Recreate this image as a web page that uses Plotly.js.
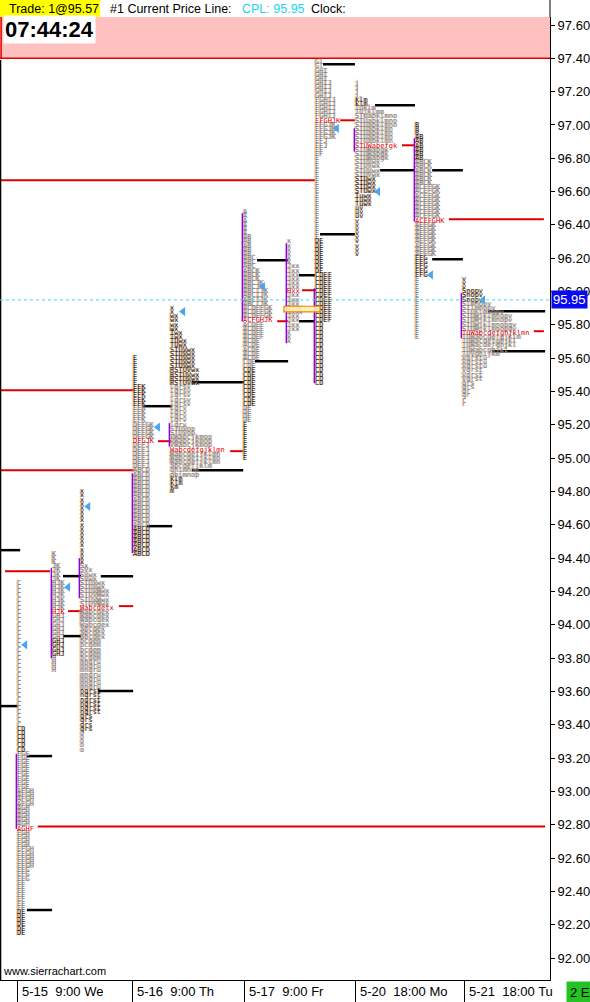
<!DOCTYPE html>
<html><head><meta charset="utf-8">
<script src="https://cdn.plot.ly/plotly-3.0.1.min.js"></script>
<style>html,body{margin:0;padding:0;background:#fff}#c{width:590px;height:1002px}</style>
</head><body><div id="c"></div>
<script>
// ---------- DATA ----------
const ROW = 0.025;                       // TPO row height in price
const profileStart = [4.05, 12.38, 19.05, 31.67, 40.48, 57.86, 68.33, 75.0, 84.52, 98.81, 110.0]; // TPO column slot
const profileTop   = [94.25, 94.425, 94.80, 95.60, 95.90, 96.475, 96.30, 97.375, 97.25, 97.00, 96.075];
// each profile: [rows, letters, style]  style g=grey, d=dark, p=POC
const tpo1 = [[35,'C','g'],[6,'CD','d'],[9,'FGE','g'],[4,'AFGH','g'],[5,'AGH','g'],[1,'AGHF','p'],[4,'FGH','g'],[5,'EFGH','g'],[3,'EFG','g'],[7,'EF','g'],[6,'DE','d']];
const tpo2 = [[3,'K','g'],[4,'JK','g'],[7,'HJK','g'],[1,'HJK','p'],[6,'GHJ','g'],[4,'GHJ','d'],[4,'H','g']];
const tpo3 = [[18,'x','d'],[1,'Sx','g'],[1,'SVx','g'],[2,'SVwx','g'],[2,'STUVwx','g'],[4,'STUVWwx','g'],[1,'Wabcdetx','p'],[4,'Wabcdex','g'],[3,'abcdex','g'],[5,'bcdem','g'],[7,'mnqru','g'],[6,'nqrst','d'],[4,'qrs','d'],[5,'o','g']];
const tpo4 = [[7,'E','d'],[5,'EFK','d'],[4,'EFK','g'],[4,'DEFGK','g'],[1,'DFGJK','p'],[6,'DEFJ','g'],[14,'ABCD','g'],[7,'ABCD','d']];
const tpo5 = [[2,'x','d'],[4,'wx','d'],[2,'Twx','d'],[2,'TUwx','d'],[5,'STUVwx','d'],[4,'RSTUVwx','d'],[5,'lqrsv','g'],[5,'lqrv','g'],[2,'STUVop','g'],[3,'VWabcjkmop','g'],[1,'Wabcdefgjklmn','p'],[3,'Wabcdefjklmn','g'],[1,'abcdefjklm','g'],[2,'ghimnop','g'],[2,'klm','d'],[1,'km','d'],[1,'m','d']];
const tpo6 = [[6,'A','g'],[5,'AB','g'],[3,'ABC','g'],[3,'ABCK','g'],[2,'ABCJK','g'],[4,'ABCIJK','g'],[3,'ACDEFGK','g'],[1,'ACFGHJK','p'],[4,'ACDEF','g'],[5,'ACDE','g'],[2,'CDE','g'],[9,'CDE','d'],[4,'DE','g'],[9,'E','d']];
const tpo7 = [[6,'x','g'],[6,'Jxx','g'],[1,'Hxx','p'],[9,'Jxx','g'],[3,'x','g']];
const tpo8 = [[2,'Gl','g'],[3,'GHI','g'],[4,'GHIJ','g'],[5,'FGHIJ','g'],[1,'EFGHJK','p'],[4,'EFGJK','g'],[2,'EFJ','g'],[2,'EF','g'],[20,'E','g'],[8,'DE','d'],[12,'CDEF','d'],[15,'CD','d']];
const tpo9 = [[4,'j','g'],[2,'klm','d'],[1,'TUklm','g'],[1,'TUjklmn','g'],[3,'STUabklmno','g'],[4,'STUabklmn','g'],[1,'STUWabefgk','p'],[3,'STUWabgk','g'],[4,'STUVwx','g'],[4,'STUwx','d'],[3,'Tuwx','d'],[3,'uv','d'],[9,'v','d']];
const tpo10 = [[3,'B','d'],[6,'AB','d'],[6,'ABCK','g'],[8,'ACEFGK','g'],[1,'ACEFGHK','p'],[8,'AEFGK','g'],[5,'EFG','d'],[15,'E','g']];
const tpo11 = [[3,'v','d'],[3,'Snopv','d'],[1,'Slmnopv','g'],[1,'STlmnopv','g'],[1,'STUklmnopv','g'],[2,'STUWjklmnopv','g'],[2,'STUWjklmnopqv','g'],[1,'TUWabcdefghjklmn','p'],[1,'TUWabcdefgjklm','g'],[2,'TUWacdefghjkl','g'],[1,'TUWabcghjkl','g'],[1,'TUVghijkm','g'],[3,'Vqrstu','g'],[3,'Vqrst','g'],[2,'qrs','g'],[2,'qr','g'],[2,'r','g']];
const profiles = [tpo1,tpo2,tpo3,tpo4,tpo5,tpo6,tpo7,tpo8,tpo9,tpo10,tpo11];

const vaHigh = [93.225, 94.34, 94.40, 94.91, 95.21, 96.47, 96.29, 96.02, 96.98, 96.92, 95.99];
const vaLow  = [92.775, 93.80, 94.16, 94.43, 95.07, 95.82, 95.69, 95.45, 96.84, 96.42, 95.72];

const triSlot  = [6.0, 16.2, 21.0, 37.6, 43.6, 62.6, 71.4, 80.2, 90.0, 102.6, 115.0];
const triPrice = [93.88, 94.226, 94.71, 95.186, 95.88, 96.03, 95.89, 96.98, 96.60, 96.10, 95.95];

const blackPrice = [94.448, 93.512, 93.212, 92.288, 94.292, 93.932, 94.292, 93.602, 95.312, 94.592, 95.456, 94.928, 96.188, 95.582, 96.098, 95.822, 97.364, 96.344, 97.118, 96.728, 96.728, 96.194, 95.882, 95.642];
const blackFrom  = [0, 0, 6.4, 6.4, 15, 15, 24, 23.3, 34, 35, 45.7, 45.7, 61.2, 60.7, 71.2, 71.2, 76.9, 76.2, 89.3, 90.5, 102.9, 102.9, 116.2, 117.1];
const blackTo    = [4.8, 4.3, 12.4, 12.4, 19.3, 19.3, 31.7, 31.7, 41, 41, 58.1, 57.9, 68.6, 68.6, 75, 75, 84.5, 84.5, 98.8, 98.6, 110.2, 110.2, 129.8, 129.8];

const redPrice = [96.668, 95.408, 94.928, 94.322, 92.79, 94.082, 94.112, 95.102, 95.042, 95.822, 96.008, 97.028, 96.878, 96.434, 95.762];
const redFrom  = [0, 0, 0, 1.2, 9, 16.2, 28.3, 37.6, 54.8, 66, 71.9, 81, 95.7, 106.9, 127.1];
const redTo    = [75, 32, 32, 11.9, 129.8, 19.5, 31.7, 40.7, 57.9, 68.6, 75.2, 84.5, 98.8, 129.5, 129.5];

const sessionSlot  = [4.05, 31.5, 58.1, 84.6, 110.5];
const sessionLabel = ['5-15\u00a0\u00a09:00 We', '5-16\u00a0\u00a09:00 Th', '5-17\u00a0\u00a09:00 Fr', '5-20\u00a0\u00a018:00 Mo', '5-21\u00a0\u00a018:00 Tu'];

const yTickVals = [92.0,92.2,92.4,92.6,92.8,93.0,93.2,93.4,93.6,93.8,94.0,94.2,94.4,94.6,94.8,95.0,95.2,95.4,95.6,95.8,96.0,96.2,96.4,96.6,96.8,97.0,97.2,97.4,97.6];
const yTickText = ['92.00','92.20','92.40','92.60','92.80','93.00','93.20','93.40','93.60','93.80','94.00','94.20','94.40','94.60','94.80','95.00','95.20','95.40','95.60','95.80','96.00','96.20','96.40','96.60','96.80','97.00','97.20','97.40','97.60'];

const lastPrice = 95.95;
const tradeText = 'Trade: 1@95.57';
const clockText = '07:44:24';
const rangeBoxTop = 97.40;

// ---------- BUILD ----------
const buckets = {g:{x:[],y:[],t:[]}, d:{x:[],y:[],t:[]}, p:{x:[],y:[],t:[]}};
profiles.forEach((segs, pi) => {
  let i = 0;
  segs.forEach(([n, txt, st]) => {
    for (let k = 0; k < n; k++) {
      buckets[st].x.push(profileStart[pi]);
      buckets[st].y.push(profileTop[pi] - i * ROW);
      buckets[st].t.push(txt);
      i++;
    }
  });
});

function segTrace(price, from, to, color, width) {
  const x = [], y = [];
  price.forEach((p, i) => { x.push(from[i], to[i], null); y.push(p, p, null); });
  return {type:'scatter', mode:'lines', x, y, line:{color, width}, hoverinfo:'skip', showlegend:false};
}

const tpoFont = 'DejaVu Sans Mono';
function textTrace(b, color, shadow) {
  return {type:'scatter', mode:'text', x:b.x, y:b.y, text:b.t, textposition:'middle right',
    textfont:{family:tpoFont, size:7, color, shadow}, hoverinfo:'skip', showlegend:false, cliponaxis:false};
}

const vaX = [], vaY = [];
vaHigh.forEach((h, i) => { vaX.push(profileStart[i] - 0.15, profileStart[i] - 0.15, null); vaY.push(h, vaLow[i], null); });

const traces = [
  segTrace(redPrice, redFrom, redTo, '#dd0000', 2),
  segTrace(blackPrice, blackFrom, blackTo, '#000000', 2.5),
  textTrace(buckets.g, '#687b91', '-1px 0px 0px rgba(235,160,90,0.85)'),
  textTrace(buckets.d, '#141414', '-1px 0px 0px rgba(235,160,90,0.85)'),
  textTrace(buckets.p, '#e00000', 'none'),
  {type:'scatter', mode:'lines', x:vaX, y:vaY, line:{color:'#8b00e8', width:1.5}, hoverinfo:'skip', showlegend:false},
  {type:'scatter', mode:'markers', x:triSlot, y:triPrice, marker:{symbol:'triangle-left', size:8, color:'#4da3ee'}, hoverinfo:'skip', showlegend:false}
];

const Y0 = 91.868, Y1 = 97.648;
const font = 'Liberation Sans, Arial, sans-serif';
const py = v => (980 - v) / 963;   // pixel row -> paper y
const HF = 12.5;

const annotations = [
  {xref:'paper', yref:'paper', x:7/550, y:py(8.5), xanchor:'left', yanchor:'middle', text:tradeText, showarrow:false,
   font:{family:font, size:HF, color:'#000'}},
  {xref:'paper', yref:'paper', x:108/550, y:py(8.5), xanchor:'left', yanchor:'middle', text:'#1 Current Price Line:', showarrow:false,
   font:{family:font, size:HF, color:'#000'}},
  {xref:'paper', yref:'paper', x:240/550, y:py(8.5), xanchor:'left', yanchor:'middle', text:'CPL: 95.95', showarrow:false,
   font:{family:font, size:HF, color:'#22d4f0'}},
  {xref:'paper', yref:'paper', x:309/550, y:py(8.5), xanchor:'left', yanchor:'middle', text:'Clock:', showarrow:false,
   font:{family:font, size:HF, color:'#000'}},
  {xref:'paper', yref:'paper', x:3/550, y:py(30), xanchor:'left', yanchor:'middle', text:'<b>' + clockText + '</b>', showarrow:false,
   font:{family:font, size:22, color:'#000'}, bgcolor:'#ffffff', borderpad:1},
  {xref:'paper', yref:'paper', x:1/550, y:py(971), xanchor:'left', yanchor:'middle', text:'www.sierrachart.com', showarrow:false,
   font:{family:font, size:11, color:'#000'}},
  {xref:'paper', yref:'y', x:1, y:lastPrice, xanchor:'left', yanchor:'middle', xshift:1, text:'95.95', showarrow:false,
   font:{family:font, size:13, color:'#ffffff'}, bgcolor:'#0a0af0', borderpad:1},
  {xref:'paper', yref:'paper', x:566/550, y:py(992), xanchor:'left', yanchor:'middle', text:'2 E', showarrow:false,
   font:{family:font, size:13, color:'#000'}, bgcolor:'#22c322', borderpad:3}
];
sessionSlot.forEach((s, i) => annotations.push({xref:'x', yref:'paper', x:s, y:py(991), xanchor:'left', yanchor:'middle',
  xshift:3, text:sessionLabel[i], showarrow:false, font:{family:font, size:13, color:'#000'}}));

const shapes = [
  {type:'rect', xref:'paper', yref:'paper', x0:0, x1:100/550, y0:1, y1:py(0), fillcolor:'#ffff00', line:{width:0}},
  {type:'rect', xref:'paper', yref:'y', x0:0, x1:1, y0:rangeBoxTop, y1:Y1, fillcolor:'#ffc0c0', line:{width:0}, layer:'below'},
  {type:'line', xref:'paper', yref:'y', x0:0, x1:1, y0:rangeBoxTop, y1:rangeBoxTop, line:{color:'#e00000', width:1.5}, layer:'below'},
  {type:'line', xref:'paper', yref:'y', x0:0.002, x1:0.002, y0:rangeBoxTop, y1:Y1, line:{color:'#e00000', width:1.5}},
  {type:'line', xref:'paper', yref:'paper', x0:0.001, x1:0.001, y0:0, y1:py(60), line:{color:'#000', width:1.5}},
  {type:'line', xref:'paper', yref:'paper', x0:1, x1:1, y0:1, y1:py(0), line:{color:'#000', width:1}},
  {type:'line', xref:'paper', yref:'y', x0:0, x1:1, y0:lastPrice, y1:lastPrice, line:{color:'#40d8ea', width:1, dash:'dot'}},
  {type:'rect', xref:'x', yref:'y', x0:67.6, x1:76.2, y0:95.878, y1:95.912, fillcolor:'rgba(255,242,170,0.9)', line:{color:'#f08010', width:1.2}}
];

const layout = {
  width:590, height:1002, margin:{l:0, r:40, t:17, b:22},
  paper_bgcolor:'#ffffff', plot_bgcolor:'#ffffff', showlegend:false,
  xaxis:{range:[0, 550/4.2], showgrid:false, zeroline:false, showline:true, linecolor:'#000', linewidth:1,
    ticks:'outside', ticklen:22, tickcolor:'#000', tickwidth:1, tickvals:sessionSlot, showticklabels:false, fixedrange:true},
  yaxis:{range:[Y0, Y1], side:'right', showgrid:false, zeroline:false, showline:true, linecolor:'#000', linewidth:1,
    ticks:'outside', ticklen:4, tickcolor:'#000', tickvals:yTickVals, ticktext:yTickText,
    tickfont:{family:font, size:13, color:'#000'}, fixedrange:true},
  annotations, shapes
};

Plotly.newPlot('c', traces, layout, {staticPlot:true, displayModeBar:false});
</script></body></html>
